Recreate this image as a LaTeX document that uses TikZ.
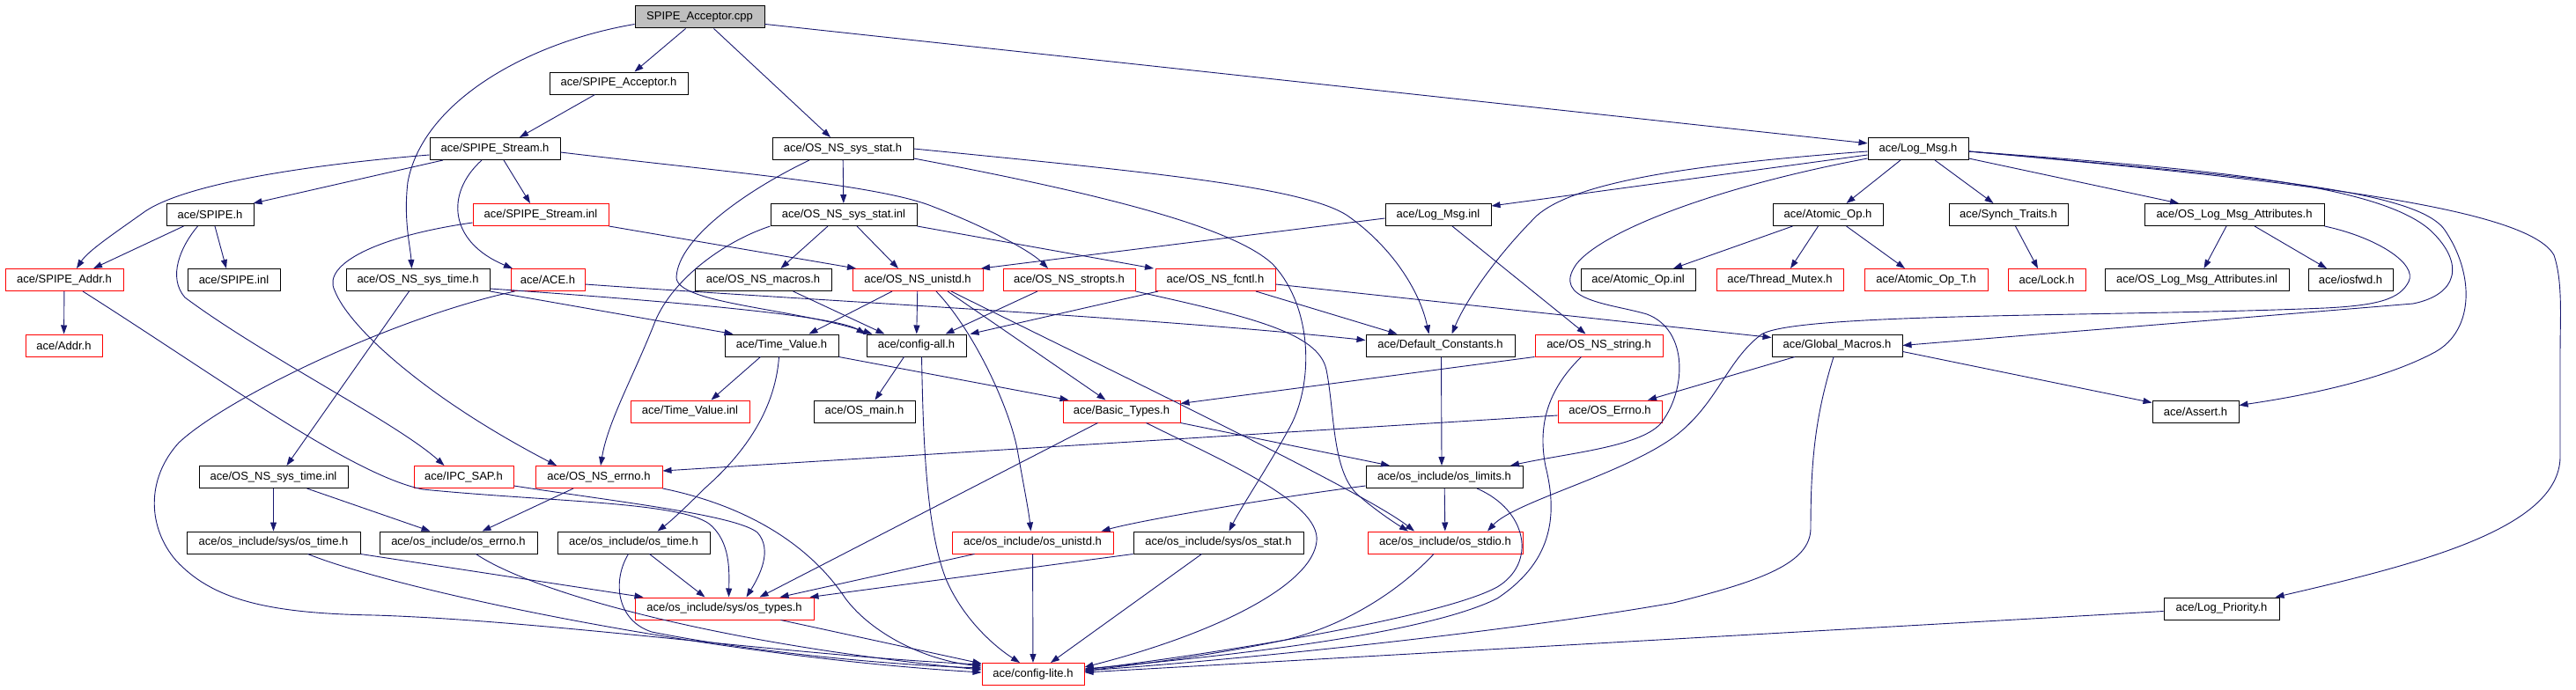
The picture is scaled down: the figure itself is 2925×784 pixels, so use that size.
\documentclass[tikz,border=0pt]{standalone}
\usepackage{fontspec}
\newfontfamily\dfont{Liberation Sans}
\usetikzlibrary{arrows.meta}
\definecolor{edgec}{RGB}{25,25,112}
\definecolor{cppgray}{RGB}{191,191,191}
\begin{document}
\begin{tikzpicture}[x=1pt,y=-1pt,
  nb/.style={draw=black,fill=white,line width=1pt,minimum height=25pt,inner sep=0pt,font=\dfont\fontsize{13}{15}\selectfont},
  nr/.style={nb,draw=red},
  e/.style={draw=edgec,line width=0.9pt,-{Triangle[length=10pt,width=7pt]}}]
\fill[white] (0,0) rectangle (2925,784);
\useasboundingbox (0,0) rectangle (2925,784);
% row 0-3
\node[nb,fill=cppgray,minimum width=147pt] (cpp) at (794.5,19.5) {SPIPE\_Acceptor.cpp};
\node[nb,minimum width=157pt] (acch) at (702.5,94.5) {ace/SPIPE\_Acceptor.h};
\node[nb,minimum width=148pt] (strh) at (562,169) {ace/SPIPE\_Stream.h};
\node[nb,minimum width=160pt] (sstat) at (957,169) {ace/OS\_NS\_sys\_stat.h};
\node[nb,minimum width=114pt] (logh) at (2178,169) {ace/Log\_Msg.h};
\node[nb,minimum width=99pt] (spipeh) at (238.5,244) {ace/SPIPE.h};
\node[nr,minimum width=154pt] (strinl) at (614,244) {ace/SPIPE\_Stream.inl};
\node[nb,minimum width=166pt] (sstatinl) at (958,244) {ace/OS\_NS\_sys\_stat.inl};
\node[nb,minimum width=120pt] (loginl) at (1633,244) {ace/Log\_Msg.inl};
\node[nb,minimum width=125pt] (atomh) at (2075.5,244) {ace/Atomic\_Op.h};
\node[nb,minimum width=135pt] (synch) at (2280.5,244) {ace/Synch\_Traits.h};
\node[nb,minimum width=204pt] (olma) at (2537,244) {ace/OS\_Log\_Msg\_Attributes.h};
% row 4
\node[nr,minimum width=134pt] (addrh) at (73,318) {ace/SPIPE\_Addr.h};
\node[nb,minimum width=105pt] (spipeinl) at (265.5,318) {ace/SPIPE.inl};
\node[nb,minimum width=163pt] (stime) at (474.5,318) {ace/OS\_NS\_sys\_time.h};
\node[nr,minimum width=84pt] (aceh) at (622,318) {ace/ACE.h};
\node[nb,minimum width=155pt] (macros) at (866.5,318) {ace/OS\_NS\_macros.h};
\node[nr,minimum width=148pt] (unistd) at (1042,318) {ace/OS\_NS\_unistd.h};
\node[nr,minimum width=150pt] (stropts) at (1214,318) {ace/OS\_NS\_stropts.h};
\node[nr,minimum width=136pt] (fcntl) at (1380,318) {ace/OS\_NS\_fcntl.h};
\node[nb,minimum width=130pt] (atominl) at (1860,318) {ace/Atomic\_Op.inl};
\node[nr,minimum width=144pt] (mutex) at (2021,318) {ace/Thread\_Mutex.h};
\node[nr,minimum width=140pt] (atomt) at (2187,318) {ace/Atomic\_Op\_T.h};
\node[nr,minimum width=88pt] (lock) at (2324,318) {ace/Lock.h};
\node[nb,minimum width=209pt] (olmainl) at (2494.5,318) {ace/OS\_Log\_Msg\_Attributes.inl};
\node[nb,minimum width=96pt] (iosfwd) at (2669,318) {ace/iosfwd.h};
% row 5
\node[nr,minimum width=87pt] (addr) at (72.5,392.5) {ace/Addr.h};
\node[nb,minimum width=129pt] (tv) at (887.5,392.5) {ace/Time\_Value.h};
\node[nb,minimum width=113pt] (cfgall) at (1040.5,392.5) {ace/config-all.h};
\node[nb,minimum width=169pt] (defc) at (1635.5,392.5) {ace/Default\_Constants.h};
\node[nr,minimum width=145pt] (nsstr) at (1815.5,392.5) {ace/OS\_NS\_string.h};
\node[nb,minimum width=148pt] (gmac) at (2086,392.5) {ace/Global\_Macros.h};
% row 6
\node[nr,minimum width=135pt] (tvinl) at (783.5,467.5) {ace/Time\_Value.inl};
\node[nb,minimum width=115pt] (osmain) at (981.5,467.5) {ace/OS\_main.h};
\node[nr,minimum width=133pt] (btypes) at (1273.5,467.5) {ace/Basic\_Types.h};
\node[nr,minimum width=118pt] (oserrno) at (1828,467.5) {ace/OS\_Errno.h};
\node[nb,minimum width=98pt] (assert) at (2493,467.5) {ace/Assert.h};
% row 7
\node[nb,minimum width=169pt] (stimeinl) at (310.5,542) {ace/OS\_NS\_sys\_time.inl};
\node[nr,minimum width=113pt] (ipc) at (526.5,542) {ace/IPC\_SAP.h};
\node[nr,minimum width=144pt] (nserrno) at (680,542) {ace/OS\_NS\_errno.h};
\node[nb,minimum width=178pt] (limits) at (1640,542) {ace/os\_include/os\_limits.h};
% row 8
\node[nb,minimum width=197pt] (ostimes) at (310.5,616.5) {ace/os\_include/sys/os\_time.h};
\node[nb,minimum width=179pt] (oserr) at (520.5,616.5) {ace/os\_include/os\_errno.h};
\node[nb,minimum width=173pt] (ostime) at (719.5,616.5) {ace/os\_include/os\_time.h};
\node[nr,minimum width=183pt] (osunistd) at (1172.5,616.5) {ace/os\_include/os\_unistd.h};
\node[nb,minimum width=193pt] (osstat) at (1383.5,616.5) {ace/os\_include/sys/os\_stat.h};
\node[nr,minimum width=176pt] (stdio) at (1641,616.5) {ace/os\_include/os\_stdio.h};
% row 9-10
\node[nr,minimum width=203pt] (types) at (822.5,691.5) {ace/os\_include/sys/os\_types.h};
\node[nb,minimum width=131pt] (logprio) at (2522.5,691.5) {ace/Log\_Priority.h};
\node[nr,minimum width=116pt] (lite) at (1173,766) {ace/config-lite.h};
% edges
\draw[e] ([xshift=-16pt]cpp.south) -- ([xshift=18pt]acch.north);
\draw[e] ([yshift=-8pt]cpp.west) .. controls (600,48) and (480,115) .. (463,207) .. controls (458,250) and (466,280) .. ([xshift=-7pt]stime.north);
\draw[e] ([xshift=16pt]cpp.south) -- ([xshift=-14pt]sstat.north);
\draw[e] (cpp) -- (logh);
\draw[e] ([xshift=-27pt]acch.south) -- ([xshift=28pt]strh.north);
\draw[e] ([yshift=-7pt]strh.west) .. controls (340,188) and (210,210) .. (165,240) .. controls (130,265) and (100,285) .. ([xshift=14pt]addrh.north);
\draw[e] ([xshift=-59pt]strh.south) -- ([xshift=49pt]spipeh.north);
\draw[e] ([xshift=-15pt]strh.south) .. controls (505,220) and (510,275) .. ([xshift=-40pt]aceh.north);
\draw[e] ([xshift=10pt]strh.south) -- ([xshift=-12pt]strinl.north);
\draw[e] ([yshift=-4pt]strh.east) .. controls (820,195) and (1000,210) .. (1060,235) .. controls (1120,258) and (1170,285) .. ([xshift=-24pt]stropts.north);
\draw[e] ([xshift=-30pt]spipeh.south) -- ([xshift=33pt]addrh.north);
\draw[e] ([xshift=5.5pt]spipeh.south) -- ([xshift=-8.5pt]spipeinl.north);
\draw[e] ([xshift=-14pt]spipeh.south) .. controls (205,280) and (190,315) .. (210,338) .. controls (300,405) and (450,480) .. ([xshift=-22pt]ipc.north);
\draw[e] (addrh) -- (addr);
\draw[e] ([xshift=21pt]addrh.south) .. controls (250,430) and (400,540) .. (480,556) .. controls (620,570) and (770,570) .. (805,595) .. controls (830,615) and (828,650) .. ([xshift=5pt]types.north);
\draw[e] ([yshift=-10pt]ipc.east) .. controls (700,570) and (835,585) .. (860,605) .. controls (878,625) and (862,655) .. ([xshift=25pt]types.north);
\draw[e] ([yshift=-9pt]strinl.west) .. controls (430,268) and (365,300) .. (380,330) .. controls (395,370) and (480,450) .. ([xshift=-48pt]nserrno.north);
\draw[e] (strinl.south east) -- ([xshift=-70pt]unistd.north);
\draw[e] ([xshift=-10pt]stime.south) -- ([xshift=15pt]stimeinl.north);
\draw[e] (stime.south east) -- ([xshift=-55pt]tv.north);
\draw[e] ([yshift=-10pt]stime.east) .. controls (800,345) and (950,360) .. ([xshift=-58pt]cfgall.north);
\draw[e] ([xshift=5pt]aceh.south west) .. controls (450,360) and (260,450) .. (203,503) .. controls (165,545) and (168,600) .. (200,637) .. controls (240,680) and (300,697) .. (425,699) .. controls (620,705) and (900,745) .. ([yshift=11pt]lite.west);
\draw[e] ([yshift=-5pt]aceh.east) .. controls (900,340) and (1300,360) .. ([yshift=6pt]defc.west);
\draw[e] (sstat) -- (sstatinl);
\draw[e] ([xshift=-38pt]sstat.south) .. controls (850,215) and (770,270) .. (768,315) .. controls (768,345) and (900,350) .. ([xshift=-50pt]cfgall.north);
\draw[e] (sstat.east) .. controls (1300,195) and (1480,212) .. (1530,245) .. controls (1580,280) and (1612,330) .. ([xshift=-13pt]defc.north);
\draw[e] ([yshift=-11pt]sstat.east) .. controls (1250,220) and (1400,258) .. (1445,300) .. controls (1492,350) and (1492,440) .. (1462,490) .. controls (1440,530) and (1410,575) .. ([xshift=12pt]osstat.north);
\draw[e] ([xshift=-18pt]sstatinl.south) -- ([xshift=20pt]macros.north);
\draw[e] ([xshift=15pt]sstatinl.south) -- ([xshift=-22pt]unistd.north);
\draw[e] (sstatinl.south east) -- ([xshift=-70pt]fcntl.north);
\draw[e] (sstatinl.south west) .. controls (820,275) and (760,320) .. (742,370) .. controls (718,430) and (690,480) .. ([xshift=2pt]nserrno.north);
\draw[e] ([xshift=34pt]macros.south) -- ([xshift=-36pt]cfgall.north);
\draw[e] ([xshift=-29pt]unistd.south) -- ([xshift=31pt]tv.north);
\draw[e] (unistd) -- (cfgall);
\draw[e] ([xshift=21pt]unistd.south) .. controls (1105,375) and (1145,460) .. (1155,510) .. controls (1162,550) and (1168,580) .. ([xshift=-2pt]osunistd.north);
\draw[e] ([xshift=34pt]unistd.south) -- ([xshift=-18pt]btypes.north);
\draw[e] ([xshift=38pt]unistd.south) .. controls (1300,440) and (1550,560) .. ([xshift=-35pt]stdio.north);
\draw[e] ([xshift=-36pt]stropts.south) -- ([xshift=33pt]cfgall.north);
\draw[e] (stropts.south east) .. controls (1420,360) and (1497,378) .. (1506,420) .. controls (1516,470) and (1512,540) .. (1545,565) .. controls (1565,582) and (1585,595) .. ([xshift=-42pt]stdio.north);
\draw[e] ([xshift=-65pt]fcntl.south) -- ([xshift=61pt]cfgall.north);
\draw[e] ([xshift=46pt]fcntl.south) -- ([xshift=-49pt]defc.north);
\draw[e] ([yshift=-5pt]fcntl.east) -- ([yshift=9pt]gmac.west);
\draw[e] ([xshift=-24pt]tv.south) -- ([xshift=24pt]tvinl.north);
\draw[e] ([xshift=-3pt]tv.south) .. controls (880,470) and (840,520) .. (800,555) .. controls (780,575) and (762,592) .. ([xshift=27pt]ostime.north);
\draw[e] (tv.south east) -- ([xshift=-60pt]btypes.north);
\draw[e] ([xshift=-14pt]cfgall.south) -- ([xshift=12pt]osmain.north);
\draw[e] ([xshift=6pt]cfgall.south) .. controls (1048,480) and (1050,600) .. (1075,660) .. controls (1095,705) and (1130,735) .. ([xshift=-15pt]lite.north);
\draw[e] ([xshift=1pt]defc.south) -- ([xshift=-3pt]limits.north);
\draw[e] ([yshift=-4pt]loginl.west) -- ([xshift=72pt]unistd.north);
\draw[e] ([xshift=16pt]loginl.south) -- ([xshift=-15pt]nsstr.north);
\draw[e] ([yshift=-7pt]logh.west) -- ([yshift=10pt]loginl.east);
\draw[e] ([yshift=-3pt]logh.west) .. controls (1900,188) and (1785,210) .. (1745,245) .. controls (1700,290) and (1665,340) .. ([xshift=13pt]defc.north);
\draw[e] ([yshift=-11pt]logh.west) .. controls (1950,212) and (1820,262) .. (1790,300) .. controls (1760,342) and (1830,345) .. (1870,357) .. controls (1918,375) and (1915,445) .. (1885,482) .. controls (1860,508) and (1780,515) .. ([xshift=75pt]limits.north);
\draw[e] ([xshift=-20pt]logh.south) -- ([xshift=21pt]atomh.north);
\draw[e] ([xshift=19pt]logh.south) -- ([xshift=-17pt]synch.north);
\draw[e] ([yshift=-11pt]logh.east) -- ([xshift=-63pt]olma.north);
\draw[e] ([yshift=-3pt]logh.east) .. controls (2500,192) and (2700,208) .. (2760,262) .. controls (2800,300) and (2790,335) .. (2740,345) .. controls (2500,365) and (2250,385) .. (gmac.east);
\draw[e] ([yshift=-3pt]logh.east) .. controls (2550,200) and (2740,215) .. (2775,260) .. controls (2810,310) and (2810,375) .. (2765,400) .. controls (2700,435) and (2600,452) .. ([yshift=7pt]assert.east);
\draw[e] ([yshift=-3pt]logh.east) .. controls (2600,205) and (2870,235) .. (2900,290) .. controls (2910,320) and (2907,360) .. (2907,400) -- (2907,520) .. controls (2905,600) and (2750,640) .. ([xshift=-5pt]logprio.north east);
\draw[e] ([xshift=-40pt]atomh.south) -- ([xshift=40pt]atominl.north);
\draw[e] ([xshift=-11pt]atomh.south) -- ([xshift=12pt]mutex.north);
\draw[e] ([xshift=21pt]atomh.south) -- ([xshift=-24pt]atomt.north);
\draw[e] ([xshift=8pt]synch.south) -- ([xshift=-10pt]lock.north);
\draw[e] ([xshift=-9pt]olma.south) -- ([xshift=8pt]olmainl.north);
\draw[e] ([xshift=23pt]olma.south) -- ([xshift=-27pt]iosfwd.north);
\draw[e] (olma.south east) .. controls (2700,270) and (2745,300) .. (2735,320) .. controls (2725,340) and (2700,347) .. (2640,350) .. controls (2400,360) and (2040,355) .. (2000,380) .. controls (1960,410) and (1950,460) .. (1900,497) .. controls (1840,540) and (1720,570) .. ([xshift=48pt]stdio.north);
\draw[e] ([xshift=-48pt]gmac.south) -- ([xshift=43pt]oserrno.north);
\draw[e] ([yshift=-7pt]gmac.east) -- ([yshift=10pt]assert.west);
\draw[e] ([xshift=-4pt]gmac.south) .. controls (2062,470) and (2056,520) .. (2056,600) .. controls (2056,640) and (2000,660) .. (1900,685) .. controls (1700,720) and (1400,750) .. ([yshift=4pt]lite.east);
\draw[e] (nsstr.south west) -- ([yshift=9pt]btypes.east);
\draw[e] ([xshift=-20pt]nsstr.south) .. controls (1760,440) and (1745,480) .. (1755,530) .. controls (1770,590) and (1760,640) .. (1700,680) .. controls (1620,720) and (1400,745) .. ([yshift=6pt]lite.east);
\draw[e] ([yshift=-4.5pt]oserrno.west) -- ([yshift=7pt]nserrno.east);
\draw[e] ([xshift=-27pt]btypes.south) -- ([xshift=40pt]types.north);
\draw[e] (btypes.south east) -- ([xshift=-62pt]limits.north);
\draw[e] ([xshift=28pt]btypes.south) .. controls (1380,520) and (1500,570) .. (1495,615) .. controls (1490,665) and (1380,720) .. ([yshift=8pt]lite.east);
\draw[e] (limits) -- (stdio);
\draw[e] ([yshift=-10pt]limits.west) .. controls (1450,565) and (1300,590) .. ([xshift=78pt]osunistd.north);
\draw[e] ([xshift=37pt]limits.south) .. controls (1735,580) and (1745,640) .. (1700,667) .. controls (1640,700) and (1400,740) .. ([yshift=5pt]lite.east);
\draw[e] ([xshift=-13pt]stdio.south) .. controls (1590,670) and (1530,710) .. (1460,727) .. controls (1350,750) and (1260,758) .. ([yshift=3pt]lite.east);
\draw[e] (osunistd) -- (lite);
\draw[e] ([xshift=-66pt]osunistd.south) -- ([xshift=63pt]types.north);
\draw[e] ([xshift=-19pt]osstat.south) -- ([xshift=20pt]lite.north);
\draw[e] (osstat.south west) -- ([xshift=97pt]types.north);
\draw[e] ([yshift=-3pt]logprio.west) -- ([yshift=2pt]lite.east);
\draw[e] (stimeinl) -- (ostimes);
\draw[e] ([xshift=38pt]stimeinl.south) -- ([xshift=-32pt]oserr.north);
\draw[e] (ostimes.south east) -- ([xshift=-92pt]types.north);
\draw[e] ([xshift=39pt]ostimes.south) .. controls (450,670) and (800,745) .. ([yshift=2pt]lite.west);
\draw[e] ([xshift=20pt]oserr.south) .. controls (600,670) and (800,730) .. ([yshift=5pt]lite.west);
\draw[e] ([xshift=-29pt]nserrno.south) -- ([xshift=27pt]oserr.north);
\draw[e] (nserrno.south east) .. controls (850,575) and (920,620) .. (960,680) .. controls (990,720) and (1050,750) .. ([yshift=9pt]lite.west);
\draw[e] ([xshift=18pt]ostime.south) -- ([xshift=-22pt]types.north);
\draw[e] ([xshift=-6pt]ostime.south) .. controls (695,660) and (700,705) .. (740,718) .. controls (850,740) and (1000,755) .. ([yshift=7pt]lite.west);
\draw[e] ([xshift=64pt]types.south) -- ([yshift=12pt]lite.west);
\end{tikzpicture}
\end{document}
